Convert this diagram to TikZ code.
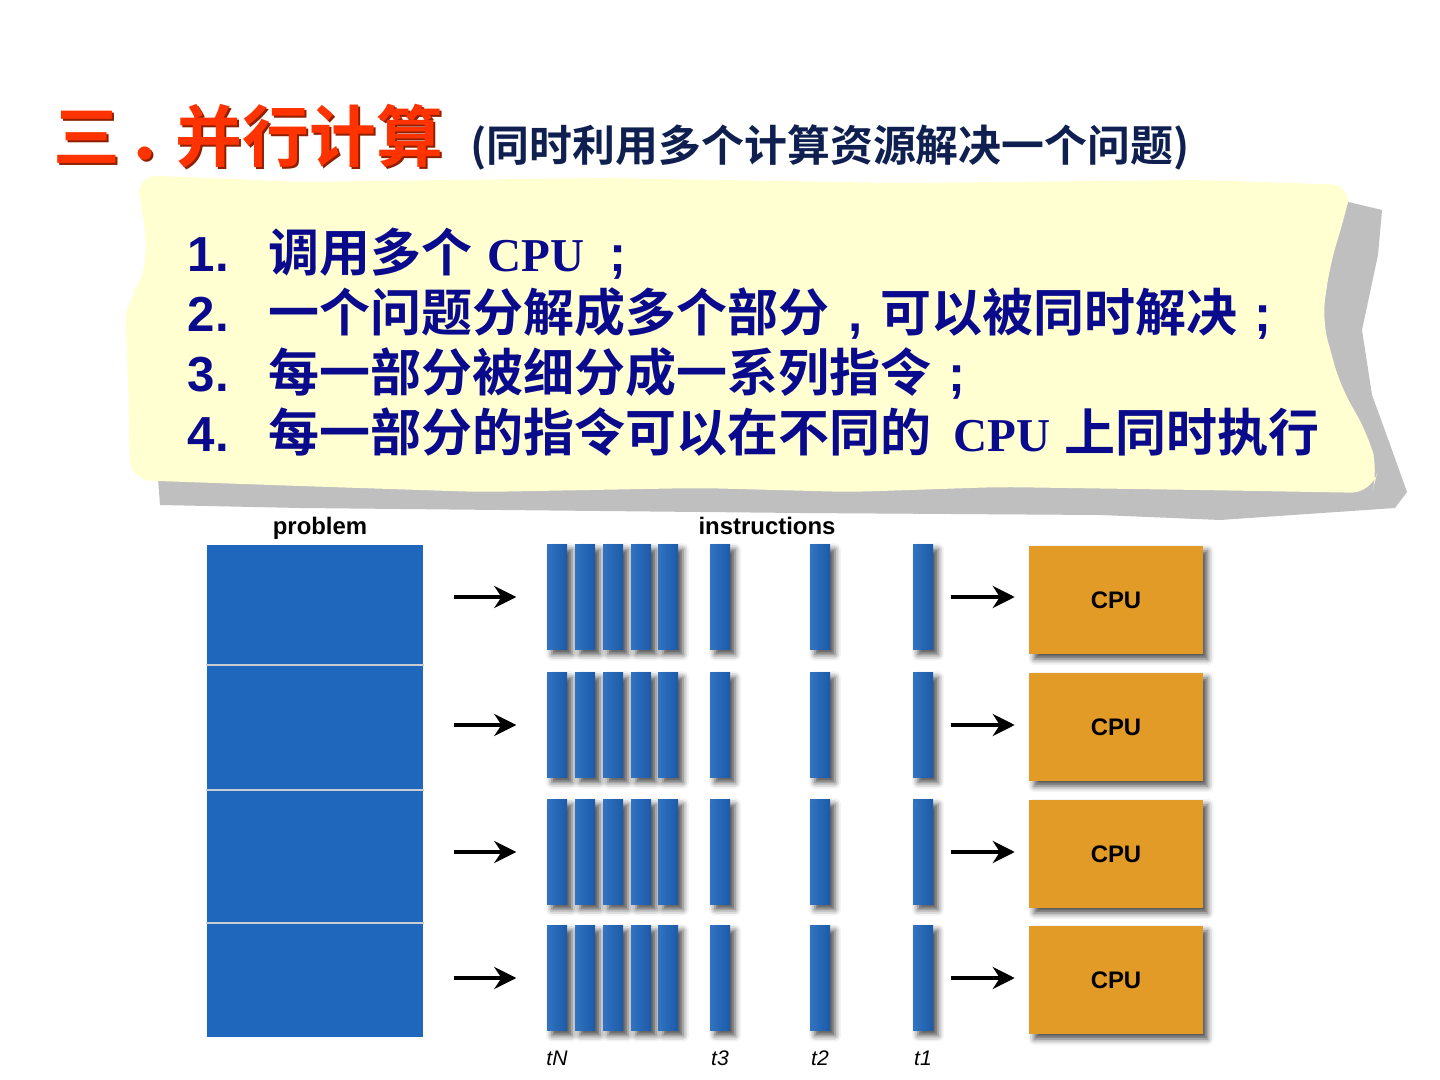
\documentclass[tikz,border=0pt]{standalone}
\usepackage{fontspec}
\setmainfont{Liberation Sans}
\newfontfamily\cjk{Noto Sans CJK SC}[BoldFont={Noto Sans CJK SC Bold}]
\newfontfamily\timesb{Liberation Serif}
\usepackage{tikz}
\usetikzlibrary{arrows.meta,positioning,shadows.blur,backgrounds}
\definecolor{titlered}  {HTML}{FF3300}
\definecolor{titleshade}{HTML}{8F1F00}
\definecolor{navy}      {HTML}{0F2050}
\definecolor{itemblue}  {HTML}{0A0A8C}
\definecolor{notepaper} {HTML}{FFFFD2}
\definecolor{noteshade} {HTML}{BFBFBF}
\definecolor{taskblue}  {HTML}{1F67BD}
\definecolor{cpuorange} {HTML}{E29B27}
\definecolor{sepgray}   {HTML}{C9CDD2}
\newcommand{\itemno}[1]{\makebox[0.81cm][l]{\fontsize{14pt}{14pt}\selectfont #1}}
\newcommand{\cpuword}{{\timesb\fontsize{13.4pt}{14pt}\selectfont CPU}}
\newcommand{\fwp}[1]{\makebox[1em][c]{#1}}
\newcommand{\titletext}{三\makebox[0.55cm][l]{\hspace{0.06cm}．}并行计算}
\tikzset{
  softshadow/.style={blur shadow={shadow xshift=0.5mm,shadow yshift=-0.5mm,shadow blur radius=0.6mm,shadow opacity=70}},
  part/.style={rectangle,fill=taskblue,inner sep=0pt,minimum width=2.16cm},
  bar/.style={rectangle,left color=taskblue!92!white,right color=taskblue!88!black,inner sep=0pt,
              minimum width=2mm,minimum height=1.05cm,softshadow},
  cpu/.style={rectangle,fill=cpuorange,inner sep=0pt,minimum width=1.73cm,minimum height=1.08cm,
              font=\bfseries\fontsize{6.8pt}{8pt}\selectfont,softshadow},
  flow/.style={line width=1.1pt,-{Stealth[length=2.2mm,width=2.2mm]}},
  sepline/.style={sepgray,line width=0.5pt},
  item/.style={text=itemblue,inner sep=0pt,anchor=base west,font=\bfseries\fontsize{14.5pt}{14.5pt}\selectfont},
  lbl/.style={inner sep=0pt,anchor=base,font=\bfseries\fontsize{6.8pt}{8pt}\selectfont},
  tlbl/.style={inner sep=0pt,font=\itshape\fontsize{6pt}{7pt}\selectfont}
}
\begin{document}
\begin{tikzpicture}[x=0.01cm,y=-0.01cm]
\useasboundingbox (0,0) rectangle (1440,1080);
% title
\node[inner sep=0pt,anchor=base west,text=titleshade,font=\cjk\bfseries\fontsize{19pt}{19pt}\selectfont] (title-shade) at (55,164) {\titletext};
\node[inner sep=0pt,anchor=base west,text=titlered,font=\cjk\bfseries\fontsize{19pt}{19pt}\selectfont] (title) at (53,162) {\titletext};
\node[inner sep=0pt,anchor=base west,text=navy,font=\cjk\bfseries\fontsize{12.2pt}{12.2pt}\selectfont] (subtitle) at (470,162) {(同时利用多个计算资源解决一个问题)};
% note paper
\fill[noteshade] (158,478) -- (1340,200) -- (1382,210) -- (1378,255) -- (1362,330) -- (1372,395) -- (1392,450) -- (1407,492) -- (1395,508) -- (1220,520) -- (1100,515) -- (800,513) -- (500,510) -- (300,508) -- (160,505) -- cycle;
\fill[notepaper,rounded corners=6pt] (137,175) -- (300,182) -- (600,178) -- (900,183) -- (1200,180) -- (1352,185) -- (1345,215) -- (1330,265) -- (1322,320) -- (1340,385) -- (1368,435) -- (1378,470) -- (1372,493) -- (1200,490) -- (1000,487) -- (850,492) -- (700,488) -- (480,492) -- (300,486) -- (130,480) -- (128,380) -- (125,300) -- (143,285) -- (147,230) -- (140,205) -- cycle;
\node[item] (item1) at (187,272) {\itemno{1.}{\cjk 调用多个}\hspace{0.15cm}\cpuword\hspace{0.08cm}\fwp{;}};
\node[item] (item2) at (187,332) {\itemno{2.}{\cjk 一个问题分解成多个部分}\fwp{,}{\cjk 可以被同时解决}\fwp{;}};
\node[item] (item3) at (187,392) {\itemno{3.}{\cjk 每一部分被细分成一系列指令}\fwp{;}};
\node[item] (item4) at (187,452) {\itemno{4.}{\cjk 每一部分的指令可以在不同的}\hspace{0.22cm}\cpuword\hspace{0.14cm}{\cjk 上同时执行}};
% problem
\node[lbl] (problem) at (320,535) {problem};
\node[part,minimum height=1.19cm] (p1) at (315,604.5) {};
\node[part,minimum height=1.25cm] (p2) at (315,726.5) {};
\node[part,minimum height=1.33cm] (p3) at (315,855.5) {};
\node[part,minimum height=1.15cm] (p4) at (315,979.5) {};
\begin{scope}[on background layer]
\path[softshadow] (p1.north west) rectangle (p4.south east);
\end{scope}
\draw[sepline] (p1.south west) -- (p1.south east);
\draw[sepline] (p2.south west) -- (p2.south east);
\draw[sepline] (p3.south west) -- (p3.south east);
% instructions
\node[lbl] (instructions) at (767,535) {instructions};
\node[bar] (b1-1) at (557,597) {};
\node[bar] (b1-2) at (585,597) {};
\node[bar] (b1-3) at (613,597) {};
\node[bar] (b1-4) at (641,597) {};
\node[bar] (b1-5) at (668,597) {};
\node[bar] (b1-6) at (720,597) {};
\node[bar] (b1-7) at (820,597) {};
\node[bar] (b1-8) at (923,597) {};
\node[bar] (b2-1) at (557,725) {};
\node[bar] (b2-2) at (585,725) {};
\node[bar] (b2-3) at (613,725) {};
\node[bar] (b2-4) at (641,725) {};
\node[bar] (b2-5) at (668,725) {};
\node[bar] (b2-6) at (720,725) {};
\node[bar] (b2-7) at (820,725) {};
\node[bar] (b2-8) at (923,725) {};
\node[bar] (b3-1) at (557,852) {};
\node[bar] (b3-2) at (585,852) {};
\node[bar] (b3-3) at (613,852) {};
\node[bar] (b3-4) at (641,852) {};
\node[bar] (b3-5) at (668,852) {};
\node[bar] (b3-6) at (720,852) {};
\node[bar] (b3-7) at (820,852) {};
\node[bar] (b3-8) at (923,852) {};
\node[bar] (b4-1) at (557,978) {};
\node[bar] (b4-2) at (585,978) {};
\node[bar] (b4-3) at (613,978) {};
\node[bar] (b4-4) at (641,978) {};
\node[bar] (b4-5) at (668,978) {};
\node[bar] (b4-6) at (720,978) {};
\node[bar] (b4-7) at (820,978) {};
\node[bar] (b4-8) at (923,978) {};
\node[tlbl,below=0.19cm of b4-1] (tN) {tN};
\node[tlbl,below=0.19cm of b4-6] (t3) {t3};
\node[tlbl,below=0.19cm of b4-7] (t2) {t2};
\node[tlbl,below=0.19cm of b4-8] (t1) {t1};
% cpus
\node[cpu] (c1) at (1116,600) {CPU};
\node[cpu] (c2) at (1116,727) {CPU};
\node[cpu] (c3) at (1116,854) {CPU};
\node[cpu] (c4) at (1116,980) {CPU};
\draw[flow,shorten <=0.3cm,shorten >=0.3cm] (p1.east |- b1-1.west) -- (b1-1.west);
\draw[flow,shorten <=0.3cm,shorten >=0.3cm] (p2.east |- b2-1.west) -- (b2-1.west);
\draw[flow,shorten <=0.3cm,shorten >=0.3cm] (p3.east |- b3-1.west) -- (b3-1.west);
\draw[flow,shorten <=0.3cm,shorten >=0.3cm] (p4.east |- b4-1.west) -- (b4-1.west);
\draw[flow,shorten <=0.17cm,shorten >=0.14cm] (b1-8.east) -- (b1-8.east -| c1.west);
\draw[flow,shorten <=0.17cm,shorten >=0.14cm] (b2-8.east) -- (b2-8.east -| c2.west);
\draw[flow,shorten <=0.17cm,shorten >=0.14cm] (b3-8.east) -- (b3-8.east -| c3.west);
\draw[flow,shorten <=0.17cm,shorten >=0.14cm] (b4-8.east) -- (b4-8.east -| c4.west);
\end{tikzpicture}
\end{document}
